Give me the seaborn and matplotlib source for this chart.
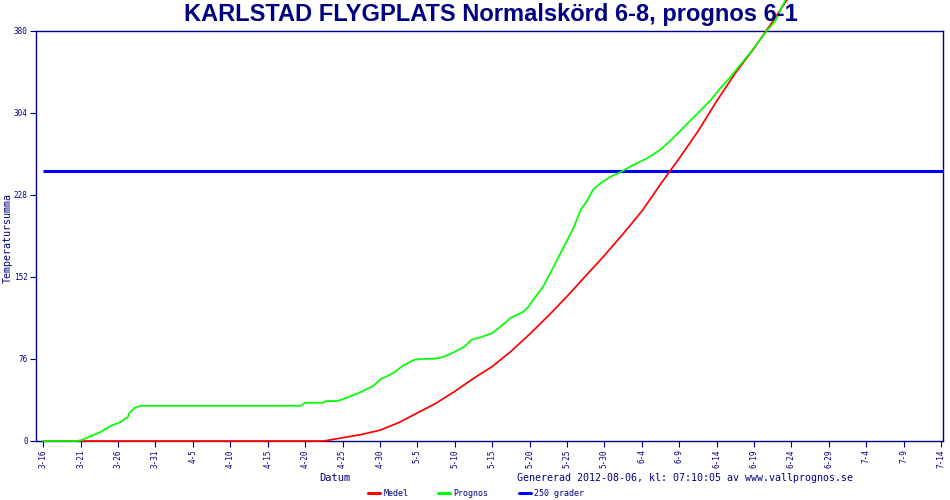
import pandas as pd
import matplotlib
matplotlib.use("Agg")
import matplotlib.pyplot as plt
from matplotlib.lines import Line2D
import seaborn as sns

# days counted from 3-16
tick_days = list(range(0, 121, 5))
tick_labels = ["3-16", "3-21", "3-26", "3-31", "4-5", "4-10", "4-15", "4-20", "4-25",
               "4-30", "5-5", "5-10", "5-15", "5-20", "5-25", "5-30", "6-4", "6-9",
               "6-14", "6-19", "6-24", "6-29", "7-4", "7-9", "7-14"]
y_ticks = [0, 76, 152, 228, 304, 380]

medel_days = [0, 37.5, 40, 42.5, 45, 47.5, 50, 52.5, 55, 57.5, 60, 62.5, 65, 67.5, 70,
              72.5, 75, 77.5, 80, 82.5, 85, 87.5, 90, 92.5, 95, 97.5, 99.5]
medel_vals = [0, 0, 3, 6, 10, 17, 26, 35, 46, 58, 69, 83, 99, 116, 134,
              153, 172, 192, 213, 238, 262, 287, 315, 341, 364, 389, 410]

prognos_days = [0, 4.5, 5.2, 6.5, 7.6, 9, 10.3, 11, 11.3, 11.5, 12.3, 13, 34.4, 35, 37.4,
                37.8, 39.3, 40.5, 42, 44.1, 45, 46.8, 48.1, 49.5, 50.4, 52.7, 53.5, 54.8,
                56.2, 57.3, 58.4, 60, 61.1, 62, 62.4, 64, 64.8, 65.5, 66.8, 67.8, 68.9,
                69.8, 70.9, 71.8, 72.7, 73.5, 74.5, 75.8, 77.1, 78.9, 80.7, 82.5, 84.2,
                85.2, 86.9, 87.5, 89.2, 90.5, 91.8, 92.5, 94.5, 95.8, 96.8, 97.9, 99.2]
prognos_vals = [0, 0, 1, 5, 8, 14, 17.5, 21, 22, 26, 31, 32.6, 32.6, 35.5, 35.5,
                37, 37, 40, 44, 51, 57, 63, 70, 75, 76, 76.5, 78, 82,
                87, 94, 96, 100, 106, 111, 114, 119, 124, 131, 143, 156, 171,
                183, 198, 214, 223, 233, 239, 245, 249, 256, 262, 270, 281,
                288, 300, 304, 316, 327, 337, 343, 360, 372, 381, 390, 409]

grader = 250

navy = "#000080"

sns.set_theme(style="white")
plt.rcParams["font.family"] = ["DejaVu Sans Mono"]

fig = plt.figure(figsize=(9.5, 5), dpi=100)
ax = fig.add_axes([36 / 950, 59 / 500, 907 / 950, 410 / 500])

medel = pd.DataFrame({"dag": medel_days, "summa": medel_vals})
prognos = pd.DataFrame({"dag": prognos_days, "summa": prognos_vals})

ax.hlines(grader, tick_days[0], 120.25, color="#0000ff", lw=2.2, zorder=3)
sns.lineplot(data=prognos, x="dag", y="summa", ax=ax, color="#00ff00", lw=1.25,
             estimator=None, clip_on=False, zorder=5)
sns.lineplot(data=medel, x="dag", y="summa", ax=ax, color="#ff0000", lw=1.25,
             estimator=None, clip_on=False, zorder=4)

ax.set_xlim(-0.97, 120.25)
ax.set_ylim(0, 380)
ax.set_xticks(tick_days)
ax.set_xticklabels(tick_labels, rotation=90, fontsize=5.5, color=navy)
ax.set_yticks(y_ticks)
ax.set_yticklabels([str(v) for v in y_ticks], fontsize=5.5, color=navy)
ax.tick_params(axis="x", length=4, width=0.8, color=navy, pad=2, bottom=True)
ax.tick_params(axis="y", length=4, width=0.8, color=navy, pad=2, left=True)
for sp in ax.spines.values():
    sp.set_color(navy)
    sp.set_linewidth(1.0)

ax.set_xlabel("Datum", fontsize=7.5, color=navy)
ax.xaxis.set_label_coords((335 - 36) / 907, (441 - 478) / 410)
ax.xaxis.label.set_va("center")
ax.set_ylabel("Temperatursumma", fontsize=7.2, color=navy)
ax.yaxis.set_label_coords((8 - 36) / 907, (441 - 238) / 410)
ax.yaxis.label.set_va("center")

fig.text(685 / 950, 1 - 478 / 500, "Genererad 2012-08-06, kl: 07:10:05 av www.vallprognos.se",
         fontsize=7.2, color=navy, ha="center", va="center")
fig.text(491 / 950, 1 - 14 / 500, "KARLSTAD FLYGPLATS Normalskörd 6-8, prognos 6-1",
         fontsize=17, fontweight="bold", family="Liberation Sans", color=navy,
         ha="center", va="center", zorder=1)

handles = [Line2D([], [], color="#ff0000", lw=2.2),
           Line2D([], [], color="#00ff00", lw=2.2),
           Line2D([], [], color="#0000ff", lw=2.2)]
fig.legend(handles, ["Medel", "Prognos", "250 grader"], ncol=3, loc="center",
           bbox_to_anchor=(476 / 950, 1 - 493 / 500), frameon=False, fontsize=6,
           handlelength=1.45, handletextpad=0.4, columnspacing=3.6, labelcolor=navy,
           borderpad=0, borderaxespad=0)

fig.savefig("out.png", dpi=100)
